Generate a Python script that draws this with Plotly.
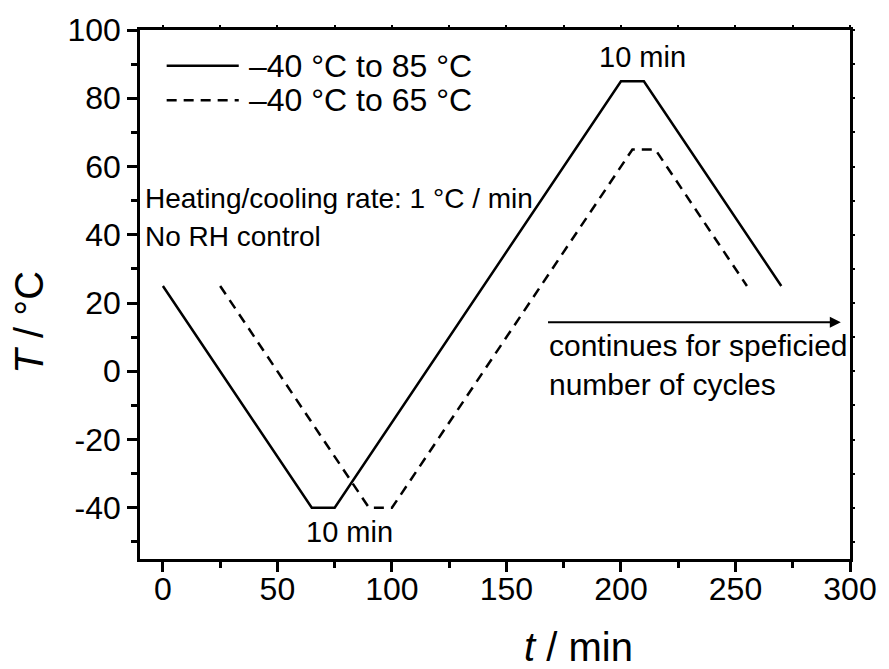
import plotly.graph_objects as go

# ---- data ----
t_85 = [0, 65, 75, 200, 210, 270]
T_85 = [25, -40, -40, 85, 85, 25]
t_65 = [25, 90, 100, 205, 215, 255]
T_65 = [25, -40, -40, 65, 65, 25]
name_85 = "–40 °C to 85 °C"
name_65 = "–40 °C to 65 °C"
x_tickvals = [0, 50, 100, 150, 200, 250, 300]
x_ticktext = ["0", "50", "100", "150", "200", "250", "300"]
y_tickvals = [-40, -20, 0, 20, 40, 60, 80, 100]
y_ticktext = ["-40", "-20", "0", "20", "40", "60", "80", "100"]

FONT = "Liberation Sans, Arial, sans-serif"
BLACK = "#000000"
LW = 2.5

fig = go.Figure()
fig.add_trace(go.Scatter(x=t_85, y=T_85, mode="lines", name=name_85,
                         line=dict(color=BLACK, width=LW), showlegend=False))
fig.add_trace(go.Scatter(x=t_65, y=T_65, mode="lines", name=name_65,
                         line=dict(color=BLACK, width=LW, dash="10px,7px"), showlegend=False))
# empty trace to create mirrored tick axes
fig.add_trace(go.Scatter(x=[None], y=[None], xaxis="x2", yaxis="y2",
                         showlegend=False, hoverinfo="skip"))

# custom legend (paper coordinates)
L, W, T, H = 140, 719, 25, 534
def px(xp):
    return (xp - L) / W
def py(yp):
    return (T + H - yp) / H

for yy, dash, name in [(61, None, name_85), (96, "10px,7px", name_65)]:
    fig.add_shape(type="line", xref="paper", yref="paper",
                  x0=px(167), x1=px(240), y0=py(yy), y1=py(yy),
                  line=dict(color=BLACK, width=LW, dash=dash if dash else "solid"))
    fig.add_annotation(xref="paper", yref="paper", x=px(248), y=py(yy),
                       text=name, showarrow=False, xanchor="left", yanchor="middle",
                       font=dict(size=32, color=BLACK, family=FONT))

# annotations
fig.add_annotation(x=209.5, y=92, text="10 min", showarrow=False,
                   xanchor="center", yanchor="middle",
                   font=dict(size=29, color=BLACK, family=FONT))
fig.add_annotation(x=81.5, y=-47, text="10 min", showarrow=False,
                   xanchor="center", yanchor="middle",
                   font=dict(size=29, color=BLACK, family=FONT))
fig.add_annotation(xref="paper", yref="paper", x=px(143), y=py(195),
                   text="Heating/cooling rate: 1 °C / min", showarrow=False,
                   xanchor="left", yanchor="middle",
                   font=dict(size=28, color=BLACK, family=FONT))
fig.add_annotation(xref="paper", yref="paper", x=px(143), y=py(233),
                   text="No RH control", showarrow=False,
                   xanchor="left", yanchor="middle",
                   font=dict(size=28, color=BLACK, family=FONT))
fig.add_annotation(x=296, y=14.4, ax=167.5, ay=14.4, axref="x", ayref="y",
                   text="", showarrow=True, arrowhead=2, arrowsize=1.1,
                   arrowwidth=2, arrowcolor=BLACK)
fig.add_annotation(x=167.5, y=14.4, text="continues for speficied<br>number of cycles",
                   showarrow=False, xanchor="left", yanchor="top", align="left",
                   yshift=-5,
                   font=dict(size=30, color=BLACK, family=FONT))

# axis titles as annotations
fig.add_annotation(xref="paper", yref="paper", x=px(584), y=py(648),
                   text="<i>t</i> / min", showarrow=False,
                   xanchor="center", yanchor="middle",
                   font=dict(size=40, color=BLACK, family=FONT))
fig.add_annotation(xref="paper", yref="paper", x=px(28), y=py(320),
                   text="<i>T</i> / °C", showarrow=False, textangle=-90,
                   xanchor="center", yanchor="middle",
                   font=dict(size=40, color=BLACK, family=FONT))

axis_common = dict(showgrid=False, zeroline=False, linecolor=BLACK, linewidth=2.5,
                   tickcolor=BLACK, tickwidth=2.5,
                   tickfont=dict(size=32, color=BLACK, family=FONT))

fig.update_layout(
    width=889, height=669,
    margin=dict(l=L, r=889 - L - W, t=T, b=669 - T - H),
    paper_bgcolor="white", plot_bgcolor="white",
    showlegend=False,
    xaxis=dict(range=[-10, 300], tickvals=x_tickvals, ticktext=x_ticktext,
               ticks="outside", ticklen=10, mirror=True, ticklabelstandoff=-10,
               minor=dict(ticks="outside", dtick=25, tick0=0, ticklen=6,
                          tickwidth=2.5, tickcolor=BLACK),
               **axis_common),
    yaxis=dict(range=[-55, 100], tickvals=y_tickvals, ticktext=y_ticktext,
               ticks="outside", ticklen=10, mirror=True,
               minor=dict(ticks="outside", dtick=10, tick0=0, ticklen=6,
                          tickwidth=2.5, tickcolor=BLACK),
               **axis_common),
    xaxis2=dict(range=[-10, 300], overlaying="x", side="top", anchor="y",
                showgrid=False, zeroline=False, showline=False,
                tickmode="linear", tick0=0, dtick=25, ticks="outside", ticklen=4,
                tickwidth=1.5, tickcolor=BLACK, showticklabels=False),
    yaxis2=dict(range=[-55, 100], overlaying="y", side="right", anchor="x",
                showgrid=False, zeroline=False, showline=False,
                tickmode="linear", tick0=0, dtick=10, ticks="outside", ticklen=4,
                tickwidth=1.5, tickcolor=BLACK, showticklabels=False),
)

fig.write_html("out.html")
